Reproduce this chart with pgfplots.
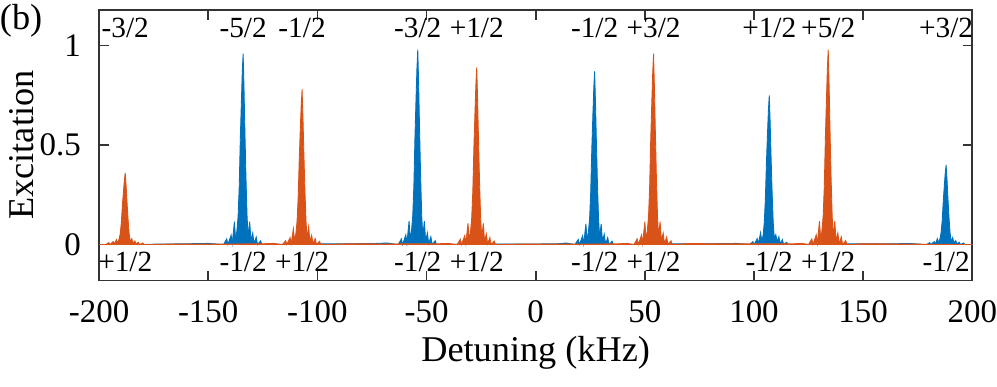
\documentclass[border=0pt]{standalone}
\usepackage{fontspec}
\setmainfont{Liberation Serif}
\usepackage{pgfplots}
\pgfplotsset{compat=1.18}
\definecolor{mblue}{RGB}{0,114,189}
\definecolor{morange}{RGB}{217,83,25}
\begin{document}
\begin{tikzpicture}
\begin{axis}[
  scale only axis, width=313pt, height=97pt,
  xmin=-200, xmax=200, ymin=-0.18, ymax=1.18,
  xtick={-200,-150,...,200},
  xticklabels={-200,-150,-100,-50,0,50,100,150,200},
  ytick={0,0.5,1}, yticklabels={0,0.5,1},
  tick align=inside, tick pos=both,
  major tick length=3.5pt,
  axis line style={black!80, line width=0.6pt},
  every tick/.style={black!80, line width=0.6pt},
  tick label style={font=\fontsize{11.8}{13}\selectfont},
  label style={font=\fontsize{13}{15}\selectfont},
  xticklabel style={yshift=-3.6pt, inner xsep=0pt},
  yticklabel style={xshift=-3pt},
  xlabel={Detuning (kHz)}, ylabel={Excitation},
  xlabel style={yshift=2pt},
  ylabel style={inner sep=0pt},
  ylabel shift=-1.5pt,
  clip=true,
]
\addplot[black!80, line width=0.6pt, forget plot] coordinates {(-200,0) (200,0)};

% blue series
\addplot[draw=mblue, fill=mblue, line width=0.3pt] coordinates {
(-200,0) (-175,0.002) (-160,0.004) (-150,0.006)
(-143,0) (-141.5,0.029) (-141,0) (-139.5,0.048) (-139,0.005) (-138,0.115) (-137.4,0.019) (-136.8,0.077) (-136.3,0.144) (-135.8,0.288) (-135.3,0.528) (-134.8,0.72) (-134.4,0.864) (-134,0.96) (-133.6,0.787) (-133.2,0.576) (-132.7,0.336) (-132.2,0.144) (-131.7,0.038) (-131,0.115) (-130.4,0.019) (-129.6,0.058) (-129,0.005) (-128,0.038) (-127.4,0) (-126,0.019) (-125.4,0)
(-110,0.003) (-90,0.004) (-75,0.005) (-68,0.008)
(-63,0) (-61.5,0.029) (-61,0) (-59.5,0.049) (-59,0.005) (-58,0.118) (-57.4,0.02) (-56.8,0.078) (-56.3,0.147) (-55.8,0.294) (-55.3,0.539) (-54.8,0.735) (-54.4,0.882) (-54,0.98) (-53.6,0.804) (-53.2,0.588) (-52.7,0.343) (-52.2,0.147) (-51.7,0.039) (-51,0.118) (-50.4,0.02) (-49.6,0.059) (-49,0.005) (-48,0.039) (-47.4,0) (-46,0.02) (-45.4,0)
(-30,0.003) (0,0.003) (10,0.004) (14,0.008)
(18,0) (19.5,0.026) (20,0) (21.5,0.044) (22,0.004) (23,0.104) (23.6,0.017) (24.2,0.07) (24.7,0.131) (25.2,0.261) (25.7,0.479) (26.2,0.653) (26.6,0.783) (27,0.87) (27.4,0.713) (27.8,0.522) (28.3,0.305) (28.8,0.131) (29.3,0.035) (30,0.104) (30.6,0.017) (31.4,0.052) (32,0.004) (33,0.035) (33.6,0) (35,0.017) (35.6,0)
(50,0.003) (80,0.004) (92,0.006)
(98,0) (99.5,0.015) (100,0) (101.5,0.03) (102,0.004) (103,0.06) (103.6,0.015) (104.2,0.05) (104.7,0.11) (105.2,0.225) (105.7,0.413) (106.2,0.563) (106.6,0.675) (107,0.75) (107.4,0.615) (107.8,0.45) (108.3,0.263) (108.8,0.113) (109.3,0.03) (110,0.05) (110.6,0.015) (111.4,0.04) (112,0.004) (113,0.025) (113.6,0) (115,0.012) (115.6,0)
(130,0.003) (160,0.004) (172,0.005)
(179,0) (180.5,0.01) (181,0) (182.5,0.015) (183,0.003) (184,0.03) (184.6,0.008) (185.2,0.03) (185.7,0.06) (186.2,0.12) (186.7,0.22) (187.2,0.3) (187.6,0.36) (188,0.40) (188.4,0.33) (188.8,0.24) (189.3,0.14) (189.8,0.06) (190.3,0.015) (191,0.035) (191.6,0.008) (192.4,0.02) (193,0.003) (194,0.012) (194.6,0) (196,0.008) (196.6,0)
(200,0)
} \closedcycle;

% orange series
\addplot[draw=morange, fill=morange, line width=0.3pt] coordinates {
(-200,0)
(-197,0) (-195.5,0.01) (-195,0) (-193.5,0.015) (-193,0.003) (-192,0.025) (-191.4,0.006) (-190.8,0.03) (-190.3,0.054) (-189.8,0.108) (-189.3,0.198) (-188.8,0.27) (-188.4,0.324) (-188,0.36) (-187.6,0.295) (-187.2,0.216) (-186.7,0.126) (-186.2,0.054) (-185.7,0.014) (-185,0.03) (-184.4,0.006) (-183.6,0.018) (-183,0.003) (-182,0.012) (-181.4,0) (-180,0.008) (-179.4,0)
(-165,0.003) (-150,0.002) (-125,0.004) (-120,0.006)
(-116,0) (-114.5,0.02) (-114,0) (-112.5,0.035) (-112,0.004) (-111,0.08) (-110.4,0.016) (-109.8,0.06) (-109.3,0.117) (-108.8,0.234) (-108.3,0.429) (-107.8,0.585) (-107.4,0.702) (-107,0.78) (-106.6,0.64) (-106.2,0.468) (-105.7,0.273) (-105.2,0.117) (-104.7,0.031) (-104,0.09) (-103.4,0.016) (-102.6,0.047) (-102,0.004) (-101,0.03) (-100.4,0) (-99,0.016) (-98.4,0)
(-85,0.004) (-70,0.003) (-45,0.004) (-40,0.006)
(-36,0) (-34.5,0.027) (-34,0) (-32.5,0.045) (-32,0.004) (-31,0.107) (-30.4,0.018) (-29.8,0.071) (-29.3,0.134) (-28.8,0.267) (-28.3,0.49) (-27.8,0.668) (-27.4,0.801) (-27,0.89) (-26.6,0.73) (-26.2,0.534) (-25.7,0.312) (-25.2,0.134) (-24.7,0.036) (-24,0.107) (-23.4,0.018) (-22.6,0.053) (-22,0.004) (-21,0.036) (-20.4,0) (-19,0.018) (-18.4,0)
(-5,0.003) (20,0.002) (38,0.004) (42,0.006)
(45,0) (46.5,0.029) (47,0) (48.5,0.048) (49,0.005) (50,0.115) (50.6,0.019) (51.2,0.077) (51.7,0.144) (52.2,0.288) (52.7,0.528) (53.2,0.72) (53.6,0.864) (54,0.96) (54.4,0.787) (54.8,0.576) (55.3,0.336) (55.8,0.144) (56.3,0.038) (57,0.115) (57.6,0.019) (58.4,0.058) (59,0.005) (60,0.038) (60.6,0) (62,0.019) (62.6,0)
(70,0.005) (85,0.004) (118,0.004) (122,0.006)
(125,0) (126.5,0.029) (127,0) (128.5,0.049) (129,0.005) (130,0.118) (130.6,0.02) (131.2,0.078) (131.7,0.147) (132.2,0.294) (132.7,0.539) (133.2,0.735) (133.6,0.882) (134,0.98) (134.4,0.804) (134.8,0.588) (135.3,0.343) (135.8,0.147) (136.3,0.039) (137,0.118) (137.6,0.02) (138.4,0.059) (139,0.005) (140,0.039) (140.6,0) (142,0.02) (142.6,0)
(150,0.004) (165,0.003) (200,0)
} \closedcycle;

% transition labels
\begin{scope}[every node/.style={font=\fontsize{10.5}{12}\selectfont, inner sep=0pt}]
\node at (axis cs:-188,1.09) {-3/2};
\node at (axis cs:-134,1.09) {-5/2};
\node at (axis cs:-107,1.09) {-1/2};
\node at (axis cs:-54,1.09) {-3/2};
\node at (axis cs:-27,1.09) {+1/2};
\node at (axis cs:27,1.09) {-1/2};
\node at (axis cs:54,1.09) {+3/2};
\node at (axis cs:107,1.09) {+1/2};
\node at (axis cs:134,1.09) {+5/2};
\node at (axis cs:188,1.09) {+3/2};
\node at (axis cs:-188,-0.086) {+1/2};
\node at (axis cs:-134,-0.086) {-1/2};
\node at (axis cs:-107,-0.086) {+1/2};
\node at (axis cs:-54,-0.086) {-1/2};
\node at (axis cs:-27,-0.086) {+1/2};
\node at (axis cs:27,-0.086) {-1/2};
\node at (axis cs:54,-0.086) {+1/2};
\node at (axis cs:107,-0.086) {-1/2};
\node at (axis cs:134,-0.086) {+1/2};
\node at (axis cs:188,-0.086) {-1/2};
\end{scope}
\end{axis}
\node[anchor=north west, inner sep=0pt, font=\fontsize{13}{15}\selectfont] (plabel) at ([xshift=-35.7pt, yshift=2pt]current axis.north west) {(b)};
\path ([yshift=1.5pt]plabel.north) ([yshift=-3pt]current axis.outer south);
\end{tikzpicture}
\end{document}
